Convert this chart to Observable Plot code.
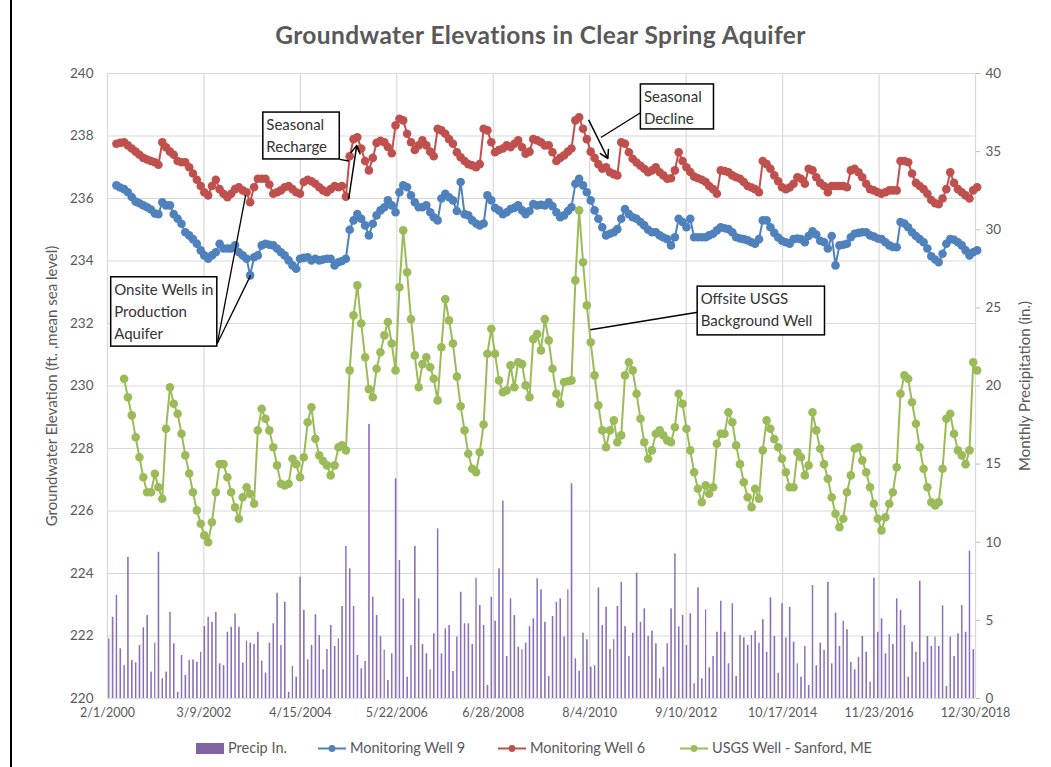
<!DOCTYPE html>
<html><head><meta charset="utf-8">
<script src="https://cdn.jsdelivr.net/npm/d3@7"></script>
<script src="https://cdn.jsdelivr.net/npm/@observablehq/plot@0.6"></script>
<style>
body{margin:0;background:#fff;font-family:Lato,"Open Sans",sans-serif;}
#wrap{position:relative;width:1051px;height:767px;overflow:hidden;background:#fff}
#title{position:absolute;left:15px;width:1051px;top:20px;text-align:center;font-weight:bold;font-size:24.5px;letter-spacing:0.4px;color:#595959}
#chart{position:absolute;left:0;top:0}
#frame{position:absolute;left:10px;top:0;width:2px;height:767px;background:#000}
.lg{position:absolute;top:739px;font-size:14.5px;color:#595959;white-space:nowrap;line-height:18px}
.sw{position:absolute;top:740px}
</style></head>
<body><div id="wrap">
<div id="frame"></div>
<div id="chart"></div>
<div id="title">Groundwater Elevations in Clear Spring Aquifer</div>
<div id="legend"></div>
</div>
<script>
// ---- data ----
const tickLabels = ["2/1/2000","3/9/2002","4/15/2004","5/22/2006","6/28/2008","8/4/2010","9/10/2012","10/17/2014","11/23/2016","12/30/2018"];
const leftTicks = [220,222,224,226,228,230,232,234,236,238,240];
const rightTicks = [0,5,10,15,20,25,30,35,40];
const leftTitle = "Groundwater Elevation (ft. ,mean sea level)";
const rightTitle = "Monthly Precipitation (in.)";
const seriesNames = ["Precip In.","Monitoring Well 9","Monitoring Well 6","USGS Well - Sanford, ME"];
const seriesColors = ["#8064a2","#4f81bd","#c0504d","#9bbb59"];

// well readings: monthly, first value = April 2000
const wellStart = [2000, 3];
const well6 = [237.75,237.78,237.8,237.7,237.6,237.5,237.4,237.3,237.25,237.2,237.16,237.08,237.8,237.64,237.5,237.4,237.2,237.16,237.16,237.0,236.8,236.6,236.4,236.2,236.1,236.4,236.6,236.3,236.15,236.04,236.15,236.3,236.36,236.26,236.2,235.88,236.36,236.63,236.63,236.63,236.45,236.15,236.2,236.26,236.36,236.4,236.3,236.2,236.15,236.53,236.6,236.55,236.47,236.36,236.26,236.2,236.3,236.4,236.36,236.4,236.06,237.35,237.9,237.96,237.6,237.2,236.9,237.3,237.78,237.85,237.8,237.65,237.45,238.34,238.55,238.5,238.07,237.8,237.55,237.7,237.86,237.7,237.5,237.35,238.23,238.18,238.07,237.9,237.75,237.48,237.32,237.2,237.1,237.06,237.0,237.1,238.23,238.18,237.8,237.48,237.55,237.6,237.7,237.64,237.75,237.86,237.64,237.43,237.5,237.9,237.86,237.8,237.7,237.7,237.48,237.2,237.3,237.38,237.5,237.6,238.5,238.6,238.23,237.9,237.5,237.3,237.1,236.95,237.0,236.84,236.78,236.74,237.8,237.75,237.48,237.27,237.15,237.05,236.95,236.84,236.9,237.0,236.84,236.74,236.63,236.65,236.9,237.48,237.2,237.0,236.85,236.7,236.65,236.6,236.53,236.4,236.3,236.15,236.9,236.88,236.84,236.74,236.68,236.63,236.53,236.4,236.35,236.3,236.2,237.2,237.1,236.95,236.74,236.55,236.36,236.3,236.35,236.47,236.68,236.63,236.47,236.95,236.9,236.68,236.5,236.4,236.2,236.4,236.4,236.4,236.4,236.36,236.9,236.95,236.84,236.68,236.47,236.3,236.26,236.2,236.15,236.2,236.26,236.26,236.26,237.2,237.2,237.16,236.8,236.5,236.4,236.3,236.15,235.95,235.85,235.82,236.0,236.3,236.84,236.5,236.3,236.2,236.1,236.0,236.26,236.36];
const well9 = [236.42,236.35,236.3,236.2,236.05,235.9,235.85,235.78,235.72,235.65,235.52,235.5,235.88,235.78,235.78,235.5,235.35,235.19,234.92,234.82,234.7,234.55,234.34,234.18,234.07,234.18,234.28,234.55,234.4,234.4,234.4,234.5,234.28,234.18,234.07,233.54,234.12,234.18,234.5,234.55,234.52,234.5,234.4,234.28,234.18,234.02,233.86,233.75,234.07,234.1,234.12,234.02,234.07,234.02,234.05,234.07,234.07,233.86,233.96,234.0,234.07,235.0,235.3,235.5,235.35,235.14,234.82,235.19,235.46,235.62,235.72,235.94,235.78,235.56,236.2,236.42,236.36,236.1,235.88,235.72,235.72,235.78,235.56,235.4,235.3,236.0,236.15,236.04,235.94,235.6,236.53,235.5,235.46,235.3,235.2,235.14,235.2,236.1,235.94,235.7,235.62,235.5,235.56,235.66,235.7,235.78,235.62,235.5,235.6,235.82,235.78,235.8,235.78,235.88,235.75,235.56,235.4,235.46,235.6,235.72,236.47,236.63,236.42,236.2,235.94,235.62,235.35,235.08,234.82,234.87,234.92,235.02,235.35,235.66,235.5,235.4,235.35,235.25,235.14,235.0,234.92,234.92,234.82,234.75,234.7,234.5,234.76,235.35,235.25,235.08,235.35,234.76,234.76,234.76,234.76,234.82,234.87,234.98,235.08,235.05,235.02,234.92,234.76,234.72,234.7,234.66,234.6,234.55,234.7,235.3,235.3,235.08,234.9,234.75,234.65,234.6,234.55,234.7,234.72,234.7,234.6,234.8,234.95,234.85,234.65,234.6,234.4,234.8,233.86,234.5,234.52,234.55,234.76,234.87,234.9,234.92,234.92,234.82,234.78,234.72,234.7,234.6,234.5,234.45,234.44,235.25,235.2,235.08,234.92,234.8,234.7,234.6,234.4,234.15,234.05,233.96,234.23,234.55,234.7,234.68,234.6,234.5,234.34,234.18,234.28,234.34];
// USGS well: monthly, first value = June 2000
const usgsStart = [2000, 5];
const usgs = [230.23,229.64,229.06,228.36,227.72,227.08,226.6,226.6,227.19,226.76,226.39,228.63,229.96,229.43,229.11,228.47,227.78,227.2,226.6,226.02,225.59,225.22,225.0,225.64,226.6,227.5,227.5,227.08,226.6,226.12,225.75,226.44,226.76,226.55,226.23,228.58,229.27,228.95,228.58,228.04,227.46,226.87,226.82,226.87,227.67,227.5,227.08,227.72,228.84,229.32,228.31,227.78,227.6,227.46,227.14,227.46,228.04,228.1,227.94,230.5,232.26,233.22,232.0,230.92,229.9,229.64,230.55,231.08,231.62,232.05,231.36,230.5,233.16,234.98,233.64,232.14,230.98,229.96,230.7,230.92,230.6,230.23,229.54,231.24,232.78,232.1,231.36,230.3,229.35,228.58,227.83,227.35,227.24,227.88,228.77,231.03,231.83,231.03,230.18,229.8,229.86,230.66,229.96,230.76,230.7,230.02,229.64,231.5,231.66,231.14,232.14,231.46,230.55,229.75,229.43,230.13,230.15,230.18,233.38,235.62,233.96,232.58,231.4,230.34,229.38,228.58,228.04,228.58,228.9,228.2,228.42,230.34,230.76,230.5,229.75,228.95,228.2,227.67,227.94,228.47,228.58,228.42,228.26,228.2,228.68,229.75,229.43,228.63,227.94,227.24,226.71,226.28,226.82,226.55,226.76,228.15,228.47,228.47,229.16,228.84,228.1,227.5,226.92,226.44,226.12,226.71,226.39,227.94,228.9,228.63,228.3,228.04,227.67,227.24,226.76,226.76,227.88,227.72,227.14,227.46,229.16,228.58,227.99,227.5,227.03,226.44,225.91,225.48,225.75,226.6,227.14,227.99,228.04,227.62,227.24,226.76,226.23,225.75,225.38,225.8,226.23,226.6,227.4,229.75,230.34,230.23,229.48,228.79,228.04,227.35,226.76,226.28,226.18,226.28,227.35,228.95,229.11,228.47,227.94,227.78,227.5,227.94,230.76,230.5];
// monthly precipitation (in.), first value = February 2000
const precipStart = [2000, 1];
const precip = [3.82,5.2,6.6,3.18,2.1,9.04,2.43,2.28,3.39,4.52,5.31,1.69,3.54,9.36,1.26,1.69,5.52,3.5,0.4,2.75,1.47,2.43,2.47,2.32,2.96,4.6,5.2,4.88,5.52,2.22,2.1,4.24,4.56,5.42,4.56,2.26,3.67,3.54,3.46,4.24,2.39,1.62,3.54,4.78,6.74,3.39,6.16,0.4,2.05,1.36,7.76,5.63,2.47,3.39,5.36,4.03,1.84,3.14,4.67,3.33,3.82,5.89,9.73,8.3,5.89,2.75,1.9,2.37,17.54,6.48,5.31,3.95,3.1,1.15,2.86,14.06,8.83,6.38,1.36,3.39,9.73,6.38,3.46,2.86,1.84,4.14,10.86,2.86,4.46,4.67,1.73,3.93,6.8,4.78,4.78,3.46,7.7,5.95,4.67,0.83,6.48,4.95,8.3,12.63,2.69,6.38,5.31,3.28,3.12,3.54,4.6,5.1,7.66,6.96,4.88,1.41,5.25,6.16,6.38,3.93,6.96,13.74,2.54,1.75,4.18,3.76,2.0,2.1,7.08,4.67,5.84,3.14,3.76,5.89,7.44,4.6,2.69,4.18,8.02,4.88,5.74,3.97,4.31,3.5,1.26,2.0,3.5,5.74,9.26,4.58,5.31,3.39,5.42,0.94,7.08,1.26,5.67,1.96,2.69,4.24,6.23,4.24,2.22,6.06,1.41,4.03,3.88,3.39,4.03,4.31,3.54,5.04,2.96,6.44,3.97,1.62,6.06,3.88,5.84,3.6,2.22,1.36,3.33,0.83,7.23,2.1,3.54,3.07,7.44,2.22,5.46,3.33,4.95,4.4,2.32,1.84,2.64,3.97,2.96,1.04,7.7,4.24,5.1,2.86,4.1,3.46,6.38,5.63,4.67,1.36,3.6,2.96,7.51,2.32,3.97,3.33,3.93,3.33,5.93,0.77,3.93,2.69,4.14,5.95,4.24,9.43,3.12];

// annotations (x in decimal years, y in ft)
const annoBoxes = [
  {x1:2003.479, x2:2005.143, y1:237.25, y2:238.75, text:"Seasonal\nRecharge"},
  {x1:2011.705, x2:2013.296, y1:238.21, y2:239.65, text:"Seasonal\nDecline"},
  {x1:2000.165, x2:2002.476, y1:231.26, y2:233.48, text:"Onsite Wells in\nProduction\nAquifer"},
  {x1:2012.94, x2:2015.716, y1:231.62, y2:233.18, text:"Offsite USGS\nBackground Well"}
];
const annoLinks = [
  {x1:2002.476, y1:231.36, x2:2003.093, y2:236.1},
  {x1:2002.476, y1:231.36, x2:2003.202, y2:233.54},
  {x1:2010.833, y1:237.95, x2:2011.705, y2:238.75},
  {x1:2010.602, y1:231.8, x2:2012.94, y2:232.36},
  {x1:2005.143, y1:237.25, x2:2005.339, y2:237.2}
];
const annoArrows = [
  {x1:2005.339, y1:236.0, x2:2005.513, y2:237.7},
  {x1:2010.571, y1:238.5, x2:2010.985, y2:237.28}
];

// ---- build ----
const fromYear = t => { const y = Math.floor(t), a = Date.UTC(y,0,1), b = Date.UTC(y+1,0,1); return new Date(a + (t-y)*(b-a)); };
const parseMDY = s => { const [m,d,y] = s.split("/").map(Number); return new Date(Date.UTC(y, m-1, d)); };
const tickDates = tickLabels.map(parseMDY);
const monthly = (start, vals, day) => vals.map((v,i) => ({date: new Date(Date.UTC(start[0], start[1]+i, day)), v}));
const w9 = monthly(wellStart, well9, 12);
const w6 = monthly(wellStart, well6, 12);
const ug = monthly(usgsStart, usgs, 12);
const pr = precip.map((p,i) => ({a: new Date(Date.UTC(precipStart[0], precipStart[1]+i, 1)), b: new Date(Date.UTC(precipStart[0], precipStart[1]+i+1, 1)), p}));
const toLeft = p => 220 + p/2;
const boxes = annoBoxes.map(d => ({...d, x1: fromYear(d.x1), x2: fromYear(d.x2)}));
const links = annoLinks.map(d => ({...d, x1: fromYear(d.x1), x2: fromYear(d.x2)}));
const arrows = annoArrows.map(d => ({...d, x1: fromYear(d.x1), x2: fromYear(d.x2)}));
const grid = "#d9d9d9";
const R = 4.3;

const chart = Plot.plot({
  width: 1051, height: 730,
  marginLeft: 107, marginRight: 76, marginTop: 73, marginBottom: 32,
  style: {fontFamily: "Lato, 'Open Sans', sans-serif", fontSize: "13px", color: "#595959", background: "transparent"},
  x: {type: "utc", domain: [tickDates[0], tickDates[tickDates.length-1]]},
  y: {domain: [220, 240]},
  marks: [
    Plot.gridY(leftTicks, {stroke: grid, strokeOpacity: 1, strokeWidth: 1.2}),
    Plot.gridX(tickDates, {stroke: grid, strokeOpacity: 1, strokeWidth: 1.2}),
    Plot.rect(pr, {x1: "a", x2: "b", y1: 220, y2: d => toLeft(d.p), fill: "#8a70b8", insetLeft: 1.15, insetRight: 1.15}),
    Plot.line(w9, {x: "date", y: "v", stroke: seriesColors[1], strokeWidth: 2}),
    Plot.dot(w9, {x: "date", y: "v", fill: seriesColors[1], r: R}),
    Plot.line(w6, {x: "date", y: "v", stroke: seriesColors[2], strokeWidth: 2}),
    Plot.dot(w6, {x: "date", y: "v", fill: seriesColors[2], r: R}),
    Plot.line(ug, {x: "date", y: "v", stroke: seriesColors[3], strokeWidth: 2}),
    Plot.dot(ug, {x: "date", y: "v", fill: seriesColors[3], r: R}),
    Plot.axisY(leftTicks, {anchor: "left", tickSize: 0, tickPadding: 14, fontSize: 13.5, label: null}),
    Plot.axisY(rightTicks.map(toLeft), {anchor: "right", tickSize: 4, tickPadding: 6, fontSize: 13.5, stroke: "#bfbfbf", tickFormat: d => String(Math.round((d-220)*2)), label: null}),
    Plot.axisX(tickDates, {tickSize: 0, tickPadding: 10, fontSize: 12.5, tickFormat: (d, i) => tickLabels[i], label: null}),
    Plot.text([leftTitle], {frameAnchor: "left", textAnchor: "middle", rotate: -90, dx: -55, fontSize: 15, fill: "#595959"}),
    Plot.text([rightTitle], {frameAnchor: "right", textAnchor: "middle", rotate: -90, dx: 50, fontSize: 15, fill: "#595959"}),
    Plot.link(links, {x1: "x1", y1: "y1", x2: "x2", y2: "y2", stroke: "black", strokeWidth: 1.3}),
    Plot.arrow(arrows, {x1: "x1", y1: "y1", x2: "x2", y2: "y2", stroke: "black", strokeWidth: 1.5, headLength: 9}),
    Plot.rect(boxes, {x1: "x1", x2: "x2", y1: "y1", y2: "y2", fill: "white", stroke: "black", strokeWidth: 1.5}),
    Plot.text(boxes, {x: "x1", y: "y2", text: "text", textAnchor: "start", lineAnchor: "top", dx: 3, dy: 2, fontSize: 15, lineHeight: 1.47, fill: "#333"})
  ]
});
document.getElementById("chart").appendChild(chart);

// legend
const lg = document.getElementById("legend");
const items = [
  {name: seriesNames[0], color: seriesColors[0], kind: "rect", sx: 196, tx: 228},
  {name: seriesNames[1], color: seriesColors[1], kind: "line", sx: 318, tx: 350},
  {name: seriesNames[2], color: seriesColors[2], kind: "line", sx: 498, tx: 530},
  {name: seriesNames[3], color: seriesColors[3], kind: "line", sx: 680, tx: 712}
];
for (const it of items) {
  const s = document.createElementNS("http://www.w3.org/2000/svg", "svg");
  s.setAttribute("width", 30); s.setAttribute("height", 16);
  s.setAttribute("class", "sw"); s.style.left = it.sx + "px";
  if (it.kind === "rect") s.innerHTML = `<rect x="0" y="3" width="28" height="11" fill="${it.color}"/>`;
  else s.innerHTML = `<line x1="0" x2="28" y1="8.5" y2="8.5" stroke="${it.color}" stroke-width="2"/><circle cx="14" cy="8.5" r="3.4" fill="${it.color}"/>`;
  lg.appendChild(s);
  const t = document.createElement("div");
  t.className = "lg"; t.style.left = it.tx + "px"; t.textContent = it.name;
  lg.appendChild(t);
}
</script>
</body></html>
